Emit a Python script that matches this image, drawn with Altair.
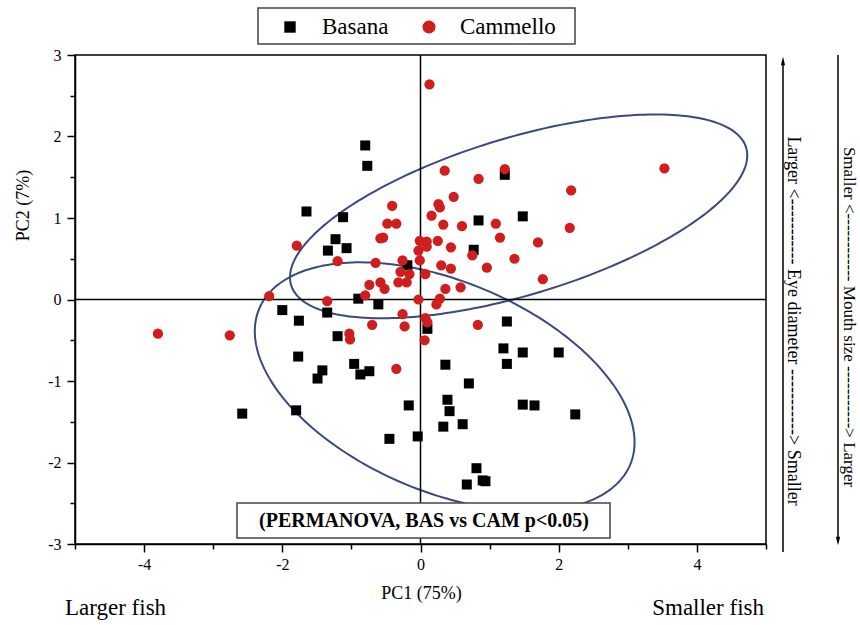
import altair as alt
import numpy as np
import pandas as pd

# ---------------- data ----------------
bas_x = [-0.80, -0.77, -1.65, -1.12, -1.23, -1.34, -1.07, -0.19, 1.22, 0.84, 1.48, 0.77,
         -0.90, -0.61, -2.00, -1.35, -1.76, -1.20, 0.10, -1.77, -0.96, -1.42, -1.49, -0.87,
         -0.74, 1.25, 1.20, 1.48, 2.00, 1.25, 0.36, 0.70, 0.39, 0.42, -0.17, 1.48,
         1.65, 2.24, 0.33, 0.61, -0.04, -0.45, -2.58, -1.80, 0.81, 0.67, 0.90, 0.94]
bas_y = [1.89, 1.64, 1.08, 1.01, 0.74, 0.60, 0.63, 0.42, 1.53, 0.97, 1.02, 0.61,
         0.01, -0.06, -0.13, -0.16, -0.26, -0.45, -0.36, -0.70, -0.79, -0.87, -0.97, -0.92,
         -0.88, -0.27, -0.60, -0.65, -0.65, -0.79, -0.80, -1.03, -1.23, -1.37, -1.30, -1.29,
         -1.30, -1.41, -1.56, -1.53, -1.68, -1.71, -1.40, -1.36, -2.07, -2.27, -2.22, -2.23]

cam_x = [0.13, 3.53, 0.35, 0.84, 1.22, 2.18, 0.48, 0.26, 0.28, 0.16, 0.33, 0.60,
         1.09, 2.16, 1.15, 1.70, -0.01, 0.09, 0.09, -0.03, 0.25, 0.44, 0.75, 1.36,
         -0.01, -0.26, 0.30, 0.44, 0.96, 1.77, 0.07, 0.36, 0.58, 0.28, 0.23, -0.03,
         -0.41, -0.48, -0.35, -0.58, -0.54, -1.79, -1.20, -0.65, -0.29, -0.16, -0.74, -0.58,
         -0.52, -0.32, -0.20, -2.19, -1.35, -0.80, -0.26, -0.23, -0.70, 0.07, 0.10, 0.06,
         -1.03, -1.02, 0.83, -0.35, -3.80, -2.76]
cam_y = [2.64, 1.61, 1.58, 1.48, 1.60, 1.34, 1.26, 1.17, 1.13, 1.03, 0.92, 0.90,
         0.93, 0.88, 0.76, 0.70, 0.72, 0.71, 0.65, 0.60, 0.72, 0.64, 0.54, 0.50,
         0.48, 0.48, 0.42, 0.38, 0.39, 0.25, 0.31, 0.13, 0.15, 0.01, -0.06, 0.00,
         1.15, 0.93, 0.93, 0.75, 0.76, 0.66, 0.47, 0.45, 0.34, 0.31, 0.18, 0.21,
         0.13, 0.21, 0.21, 0.04, -0.02, 0.05, -0.18, -0.33, -0.31, -0.23, -0.28, -0.50,
         -0.42, -0.49, -0.31, -0.85, -0.42, -0.44]

# confidence ellipses (centre, semi-axes, rotation in degrees)
ell_group = ["Basana", "Cammello"]
ell_cx = [0.35, 1.42]
ell_cy = [-1.07, 1.02]
ell_a = [2.855, 3.40]
ell_b = [1.3145, 0.975]
ell_angle = [-17.8, 13.9]

x_ticks = [-5, -4, -3, -2, -1, 0, 1, 2, 3, 4, 5]
y_ticks = [-3, -2.5, -2, -1.5, -1, -0.5, 0, 0.5, 1, 1.5, 2, 2.5, 3]

# ---------------- tables ----------------
pts = pd.concat([
    pd.DataFrame({"group": "Basana", "x": bas_x, "y": bas_y}),
    pd.DataFrame({"group": "Cammello", "x": cam_x, "y": cam_y}),
])

rows = []
for g, cx, cy, a, b, ang in zip(ell_group, ell_cx, ell_cy, ell_a, ell_b, ell_angle):
    th = np.deg2rad(ang)
    t = np.linspace(0, 2 * np.pi, 241)
    ex = cx + a * np.cos(t) * np.cos(th) - b * np.sin(t) * np.sin(th)
    ey = cy + a * np.cos(t) * np.sin(th) + b * np.sin(t) * np.cos(th)
    for i, (u, v) in enumerate(zip(ex, ey)):
        rows.append({"group": g, "i": i, "x": u, "y": v})
ell = pd.DataFrame(rows)

one = pd.DataFrame({"a": [0]})

FONT = "Liberation Serif"
W, H = 691, 489
RED = "#d01e1e"
NAVY = "#3b4a7c"

xs = alt.Scale(domain=[-5, 5], nice=False, zero=False)
ys = alt.Scale(domain=[-3, 3], nice=False, zero=False)

common_axis = dict(
    grid=False, domainColor="black", domainWidth=1.5, tickColor="black", tickWidth=1.5,
    labelFont=FONT, labelFontSize=16, labelColor="black", labelOverlap=False,
    titleFont=FONT, titleFontSize=18, titleFontWeight="normal", titleColor="black",
    titleBaseline="middle",
)

xaxis = alt.Axis(
    values=x_ticks, title="PC1 (75%)",
    labelExpr="(datum.value % 2 === 0 && abs(datum.value) < 5) ? '' + datum.value : ''",
    tickSize={"condition": {"test": "datum.value % 2 === 0", "value": 8}, "value": 5},
    labelPadding=4, titleX=346, titleY=49, titleAngle=0, **common_axis,
)
yaxis = alt.Axis(
    values=y_ticks, title="PC2 (7%)",
    labelExpr="(datum.value % 1 === 0) ? '' + datum.value : ''",
    tickSize={"condition": {"test": "datum.value % 1 === 0", "value": 8}, "value": 5},
    labelPadding=6, titleX=-52, titleY=150, titleAngle=-90, **common_axis,
)

ellipses = alt.Chart(ell).mark_line(strokeWidth=2, color=NAVY).encode(
    x=alt.X("x:Q", scale=xs, axis=xaxis),
    y=alt.Y("y:Q", scale=ys, axis=yaxis),
    detail="group:N",
    order="i:Q",
)

vline = alt.Chart(pd.DataFrame({"x": [0]})).mark_rule(color="black", strokeWidth=1.5).encode(
    x=alt.X("x:Q", scale=xs))
hline = alt.Chart(pd.DataFrame({"y": [0]})).mark_rule(color="black", strokeWidth=1.5).encode(
    y=alt.Y("y:Q", scale=ys))

bas = alt.Chart(pts[pts.group == "Basana"]).mark_point(
    shape="square", filled=True, color="black", opacity=1, size=100).encode(
    x=alt.X("x:Q", scale=xs), y=alt.Y("y:Q", scale=ys))
cam = alt.Chart(pts[pts.group == "Cammello"]).mark_point(
    shape="circle", filled=True, color=RED, opacity=1, size=105).encode(
    x=alt.X("x:Q", scale=xs), y=alt.Y("y:Q", scale=ys))

# legend box (above the plot)
leg_box = alt.Chart(one).mark_rect(fill="white", stroke="#444444", strokeWidth=1.5).encode(
    x=alt.value(183), x2=alt.value(500), y=alt.value(-47), y2=alt.value(-11))
leg_sq = alt.Chart(one).mark_point(shape="square", filled=True, color="black", opacity=1, size=130).encode(
    x=alt.value(215), y=alt.value(-28))
leg_ci = alt.Chart(one).mark_point(shape="circle", filled=True, color=RED, opacity=1, size=170).encode(
    x=alt.value(354), y=alt.value(-28))
leg_t1 = alt.Chart(one).mark_text(text="Basana", font=FONT, fontSize=23, align="left",
                                  baseline="middle", color="black").encode(
    x=alt.value(247), y=alt.value(-28))
leg_t2 = alt.Chart(one).mark_text(text="Cammello", font=FONT, fontSize=23, align="left",
                                  baseline="middle", color="black").encode(
    x=alt.value(385), y=alt.value(-28))

# PERMANOVA annotation
perm_box = alt.Chart(one).mark_rect(fill="white", stroke="#444444", strokeWidth=1.5).encode(
    x=alt.value(162), x2=alt.value(535), y=alt.value(448), y2=alt.value(483))
perm_t = alt.Chart(one).mark_text(text="(PERMANOVA, BAS vs CAM p<0.05)", font=FONT, fontSize=20,
                                  fontWeight="bold", align="center", baseline="middle",
                                  color="black").encode(x=alt.value(349), y=alt.value(466))

# size labels under the x axis
lf = alt.Chart(one).mark_text(text="Larger fish", font=FONT, fontSize=23, align="left",
                              baseline="middle", color="black").encode(x=alt.value(-10), y=alt.value(553))
sf = alt.Chart(one).mark_text(text="Smaller fish", font=FONT, fontSize=23, align="right",
                              baseline="middle", color="black").encode(x=alt.value(689), y=alt.value(553))

# right-hand arrows
eye_line = alt.Chart(one).mark_rule(color="black", strokeWidth=1.5).encode(
    x=alt.value(708), y=alt.value(6), y2=alt.value(497))
eye_head = alt.Chart(one).mark_point(shape="M0,-1L0.5,1L-0.5,1Z", filled=True, color="black",
                                     opacity=1, size=70).encode(x=alt.value(708), y=alt.value(6))
eye_t = alt.Chart(one).mark_text(text="Larger <----------- Eye diameter -----------> Smaller", font=FONT,
                                 fontSize=18, angle=90, align="center", baseline="middle",
                                 color="black").encode(x=alt.value(718), y=alt.value(266))
mou_line = alt.Chart(one).mark_rule(color="black", strokeWidth=1.5).encode(
    x=alt.value(763), y=alt.value(0), y2=alt.value(486))
mou_head = alt.Chart(one).mark_point(shape="M0,1L0.5,-1L-0.5,-1Z", filled=True, color="black",
                                     opacity=1, size=70).encode(x=alt.value(763), y=alt.value(486))
mou_t = alt.Chart(one).mark_text(text="Smaller <------------ Mouth size -----------> Larger", font=FONT,
                                 fontSize=17, angle=90, align="center", baseline="middle",
                                 color="black").encode(x=alt.value(774), y=alt.value(262))

chart = alt.layer(
    ellipses, vline, hline, bas, cam,
    leg_box, leg_sq, leg_ci, leg_t1, leg_t2,
    perm_box, perm_t, lf, sf,
    eye_line, eye_head, eye_t, mou_line, mou_head, mou_t,
).properties(
    width=W, height=H,
    padding={"left": 75, "top": 55, "right": 94, "bottom": 81},
    autosize=alt.AutoSizeParams(type="none"),
    background="white",
).configure_view(stroke="black", strokeWidth=1.5)

chart.save("out.html", embed_options={"renderer": "svg", "actions": False})
